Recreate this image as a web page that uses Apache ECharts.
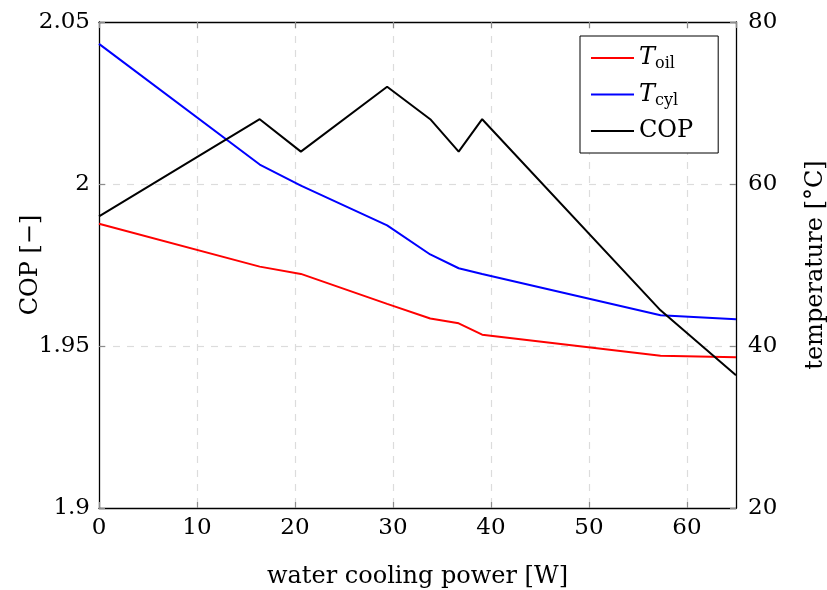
<!DOCTYPE html>
<html>
<head>
<meta charset="utf-8">
<script src="https://cdn.jsdelivr.net/npm/echarts@6/dist/echarts.min.js"></script>
<style>
  html, body { margin: 0; padding: 0; background: #fff; }
  #main { width: 827px; height: 590px; }
</style>
</head>
<body>
<div id="main"></div>
<script>
var myChart = echarts.init(document.getElementById('main'));

// water cooling power [W]
var power = [0, 16.4, 20.6, 29.4, 33.8, 36.7, 39.1, 57.3, 65];
// COP [-] (left axis)
var cop = [1.990, 2.020, 2.010, 2.030, 2.020, 2.010, 2.020, 1.961, 1.941];
// temperatures [°C] (right axis)
var tOil = [55.1, 49.8, 48.9, 45.2, 43.4, 42.8, 41.4, 38.8, 38.6];
var tCyl = [77.3, 62.4, 59.8, 54.9, 51.3, 49.6, 48.9, 43.8, 43.3];

function pairs(xs, ys) {
    var out = [];
    for (var i = 0; i < xs.length; i++) {
        out.push([xs[i], ys[i]]);
    }
    return out;
}

var FONT = 'DejaVu Serif';
var FS = 23;
var gridLine = {
    show: true,
    showMaxLine: false,
    showMinLine: false,
    lineStyle: { color: '#dcdcdc', type: [7, 7], width: 1.2 },
};
var tick = {
    show: true,
    inside: true,
    length: 6,
    lineStyle: { color: '#8c8c8c', width: 1.2 },
};
var frame = { show: true, onZero: false, lineStyle: { color: '#000', width: 1.3 } };

var option = {
    backgroundColor: '#fff',
    animation: false,
    textStyle: { fontFamily: FONT },
    grid: {
        left: 99,
        right: 91,
        top: 22,
        bottom: 82,
        outerBoundsMode: 'none',
        containLabel: false,
    },
    legend: {
        orient: 'vertical',
        left: 580,
        top: 36,
        padding: [10, 25, 10, 10],
        itemGap: 10.5,
        itemWidth: 43,
        itemHeight: 30,
        borderColor: '#000',
        borderWidth: 1,
        backgroundColor: '#fff',
        itemStyle: { opacity: 0 },
        data: ['T_oil', 'T_cyl', 'COP'],
        formatter: function (name) {
            if (name === 'T_oil') return '{i|T}{s|oil}';
            if (name === 'T_cyl') return '{i|T}{s|cyl}';
            return '{n|COP}';
        },
        textStyle: {
            rich: {
                i: { fontFamily: FONT, fontStyle: 'italic', fontSize: 24, color: '#000' },
                s: { fontFamily: FONT, fontSize: 16, color: '#000', padding: [12, 0, 0, 0] },
                n: { fontFamily: FONT, fontSize: 24, color: '#000' },
            },
        },
    },
    xAxis: [{
        type: 'value',
        min: 0,
        max: 65,
        interval: 10,
        name: 'water cooling power [W]',
        nameLocation: 'middle',
        nameGap: 57,
        nameMoveOverlap: false,
        nameTextStyle: { fontFamily: FONT, fontSize: 24, color: '#000' },
        axisLine: frame,
        axisTick: tick,
        axisLabel: {
            fontFamily: FONT,
            fontSize: FS,
            color: '#000',
            margin: 9,
            showMaxLabel: false,
        },
        splitLine: gridLine,
    }, {
        type: 'value',
        position: 'top',
        min: 0,
        max: 65,
        interval: 10,
        axisLine: frame,
        axisTick: tick,
        axisLabel: { show: false },
        splitLine: { show: false },
    }],
    yAxis: [{
        type: 'value',
        min: 1.9,
        max: 2.05,
        interval: 0.05,
        name: 'COP [\u2212]',
        nameLocation: 'middle',
        nameGap: 56,
        nameMoveOverlap: false,
        nameTextStyle: { fontFamily: FONT, fontSize: 24, color: '#000' },
        axisLine: frame,
        axisTick: tick,
        axisLabel: {
            fontFamily: FONT,
            fontSize: FS,
            color: '#000',
            margin: 9,
        },
        splitLine: gridLine,
    }, {
        type: 'value',
        position: 'right',
        min: 20,
        max: 80,
        interval: 20,
        name: 'temperature [\u00b0C]',
        nameLocation: 'middle',
        nameGap: 68,
        nameRotate: 90,
        nameTextStyle: { fontFamily: FONT, fontSize: 24, color: '#000' },
        axisLine: frame,
        axisTick: tick,
        axisLabel: {
            fontFamily: FONT,
            fontSize: FS,
            color: '#000',
            margin: 12,
        },
        splitLine: { show: false },
    }],
    series: [{
        name: 'T_oil',
        type: 'line',
        yAxisIndex: 1,
        symbol: 'none',
        lineStyle: { color: '#ff0000', width: 2 },
        itemStyle: { color: '#ff0000' },
        data: pairs(power, tOil),
    }, {
        name: 'T_cyl',
        type: 'line',
        yAxisIndex: 1,
        symbol: 'none',
        lineStyle: { color: '#0000ff', width: 2 },
        itemStyle: { color: '#0000ff' },
        data: pairs(power, tCyl),
    }, {
        name: 'COP',
        type: 'line',
        yAxisIndex: 0,
        symbol: 'none',
        lineStyle: { color: '#000', width: 2 },
        itemStyle: { color: '#000' },
        data: pairs(power, cop),
    }],
};
myChart.setOption(option);
</script>
</body>
</html>
